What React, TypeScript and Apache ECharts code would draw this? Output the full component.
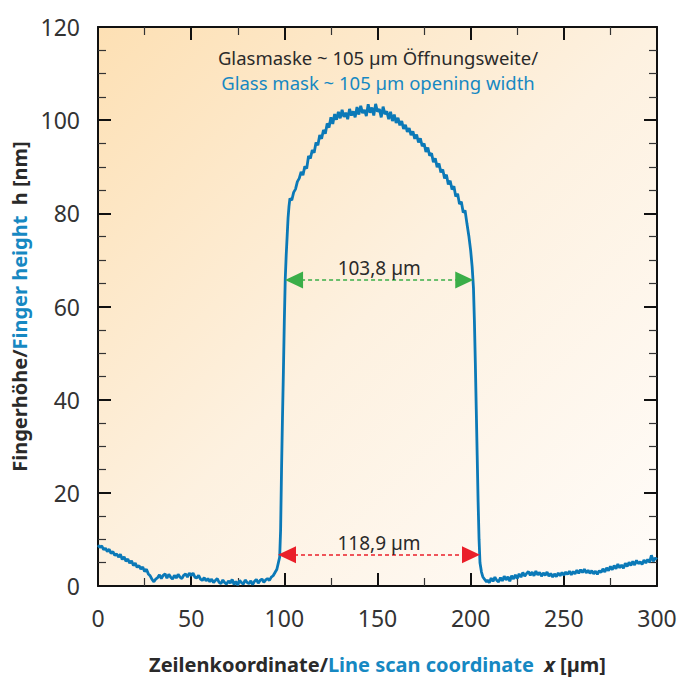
import React, { useEffect, useRef } from "react";
import * as echarts from "echarts";

// Line scan profile: x [µm], h [nm]
const scanX: number[] = [
  0, 1, 2, 3, 4, 5, 6, 7, 8, 9, 10, 11, 12, 13, 14, 15, 16, 17, 18, 19,
  20, 21, 22, 23, 24, 25, 26, 27, 28, 29, 30, 31, 32, 33, 34, 35, 36, 37, 38, 39,
  40, 41, 42, 43, 44, 45, 46, 47, 48, 49, 50, 51, 52, 53, 54, 55, 56, 57, 58, 59,
  60, 61, 62, 63, 64, 65, 66, 67, 68, 69, 70, 71, 72, 73, 74, 75, 76, 77, 78, 79,
  80, 81, 82, 83, 84, 85, 86, 87, 88, 89, 90, 91, 92, 93, 94, 95,
  96, 96.8, 97.5, 98, 98.5, 99, 99.5, 100, 100.5, 101, 101.5, 102, 102.5, 103,
  104, 105, 106, 107, 108, 109, 110, 111, 112, 113, 114, 115, 116, 117, 118, 119,
  120, 121, 122, 123, 124, 125, 126, 127, 128, 129, 130, 131, 132, 133, 134, 135,
  136, 137, 138, 139, 140, 141, 142, 143, 144, 145, 146, 147, 148, 149, 150, 151,
  152, 153, 154, 155, 156, 157, 158, 159, 160, 161, 162, 163, 164, 165, 166, 167,
  168, 169, 170, 171, 172, 173, 174, 175, 176, 177, 178, 179, 180, 181, 182, 183,
  184, 185, 186, 187, 188, 189, 190, 191, 192, 193, 194, 195, 196, 197, 198, 199,
  200, 200.8, 201.5, 202, 202.5, 203, 203.5, 204, 204.5, 205, 205.8, 206.5, 207.5, 208.5,
  209, 210, 211, 212, 213, 214, 215, 216, 217, 218, 219, 220, 221, 222, 223, 224,
  225, 226, 227, 228, 229, 230, 231, 232, 233, 234, 235, 236, 237, 238, 239, 240,
  241, 242, 243, 244, 245, 246, 247, 248, 249, 250, 251, 252, 253, 254, 255, 256,
  257, 258, 259, 260, 261, 262, 263, 264, 265, 266, 267, 268, 269, 270, 271, 272,
  273, 274, 275, 276, 277, 278, 279, 280, 281, 282, 283, 284, 285, 286, 287, 288,
  289, 290, 291, 292, 293, 294, 295, 296, 297, 298, 299, 300,
];

const scanH: number[] = [
  8.8, 8.3, 8.6, 7.8, 8.1, 7.4, 7.9, 7.0, 7.4, 6.6, 6.9, 6.2, 6.8, 5.7, 6.3, 5.3, 5.8, 4.9, 5.4, 4.4,
  4.9, 4.0, 4.4, 3.6, 4.1, 3.1, 3.6, 2.6, 2.2, 1.4, 0.9, 1.5, 1.8, 2.4, 1.6, 2.3, 2.6, 1.7, 2.5, 1.9,
  1.5, 2.3, 1.7, 2.5, 1.9, 1.6, 2.3, 2.6, 1.9, 2.8, 2.2, 2.8, 1.9, 1.7, 2.3, 1.5, 1.2, 1.8, 1.1, 1.6,
  0.9, 1.5, 0.7, 1.2, 1.6, 0.8, 0.5, 1.3, 0.7, 0.4, 1.1, 0.6, 1.4, 0.3, 1.0, 0.2, 1.2, 0.7, 0.4, 1.3,
  0.8, 0.5, 1.1, 0.3, 1.0, 1.4, 0.6, 1.2, 1.5, 0.8, 1.3, 1.6, 1.2, 1.9, 2.2, 2.9,
  3.6, 5.0, 6.2, 12, 25, 36, 46, 57, 66, 71, 75, 79, 81.5, 83.2,
  82.8, 84.5, 85.2, 86.8, 87.5, 88.9, 88.2, 90.1, 89.6, 92.3, 91.8, 93.6, 93.0, 95.2, 94.6, 96.8,
  96.0, 97.9, 97.1, 99.3, 98.4, 100.6, 99.2, 101.3, 100.1, 101.8, 100.4, 102.2, 100.7, 101.6, 100.2, 102.4,
  101.0, 101.9, 100.6, 102.8, 101.2, 103.1, 101.5, 102.2, 100.9, 103.4, 101.6, 102.7, 101.0, 103.5, 101.8, 102.4,
  100.6, 102.9, 101.3, 101.9, 100.2, 101.8, 99.8, 101.2, 99.4, 100.5, 98.9, 99.8, 98.1, 99.0, 97.5, 98.3,
  96.8, 97.6, 96.0, 96.9, 95.2, 96.1, 94.4, 95.0, 93.2, 94.1, 92.4, 92.9, 91.0, 91.8, 89.9, 90.7,
  88.8, 89.4, 87.5, 88.3, 86.2, 87.0, 85.1, 85.8, 83.6, 84.2, 82.0, 82.5, 80.2, 80.6, 77.8, 75.2,
  72.0, 68.5, 64, 57, 48, 38, 28, 18, 10, 5.0, 3.0, 2.0, 1.4, 0.9,
  1.3, 0.7, 1.7, 1.0, 1.9, 1.2, 0.9, 1.8, 1.1, 2.1, 1.3, 2.0, 1.0, 2.2, 1.5, 2.4,
  1.6, 2.6, 1.9, 2.9, 2.1, 2.7, 3.1, 2.3, 3.0, 2.2, 3.2, 2.4, 2.9, 2.1, 2.8, 2.3,
  3.0, 2.1, 2.7, 1.9, 2.6, 2.0, 2.8, 2.2, 2.9, 2.3, 3.0, 2.5, 3.2, 2.4, 3.1, 2.6,
  3.4, 2.7, 3.5, 2.9, 3.6, 2.8, 3.4, 2.7, 3.3, 2.6, 3.2, 2.5, 3.3, 2.9, 3.7, 3.0,
  3.9, 3.3, 4.2, 3.5, 4.4, 3.7, 4.7, 3.9, 4.5, 3.8, 4.9, 4.2, 5.1, 4.4, 5.3, 4.5,
  5.5, 4.8, 5.2, 4.6, 5.6, 4.9, 5.7, 5.1, 6.6, 5.3, 6.0, 5.7,
];

// Width annotations: arrow tips at [from, to] (µm), height h (nm)
const topWidth = { from: 100.4, to: 201.4, h: 65.7, label: "103,8 µm" };
const baseWidth = { from: 96.6, to: 205.0, h: 6.7, label: "118,9 µm" };

const xTicks = { min: 0, max: 300, interval: 50 };
const yTicks = { min: 0, max: 120, interval: 20 };

const titleDe = "Glasmaske ~ 105 µm Öffnungsweite/";
const titleEn = "Glass mask ~ 105 µm opening width";

const BLUE = "#1688c2";
const LINE = "#0b79b7";
const DARK = "#2a2a2a";
const GREEN = "#3aae48";
const RED = "#ea1f2a";
const FONT = "'Noto Sans', sans-serif";

const GRID = { left: 98, right: 24, top: 27, bottom: 94 };
const W = 681;

export default function App() {
  const ref = useRef<HTMLDivElement>(null);
  useEffect(() => {
    if (!ref.current) return;
    const chart = echarts.init(ref.current, null, { renderer: "svg" });
    const data = scanX.map((x, i) => [x, scanH[i]]);
    const arrowLen = 18;
    const arrowW = 17;
    const pxPerUnit = (W - GRID.left - GRID.right) / (xTicks.max - xTicks.min);
    const shift = arrowLen / 2 / pxPerUnit;
    const mkPair = (a: typeof topWidth, color: string) => [
      {
        coord: [a.from + shift, a.h],
        lineStyle: { color, type: [4, 3], width: 1.5, opacity: 1 },
        itemStyle: { color },
        label: {
          show: true,
          position: "middle",
          formatter: a.label,
          color: DARK,
          fontSize: 19,
          fontFamily: FONT,
          distance: 2,
        },
      },
      { coord: [a.to - shift, a.h], itemStyle: { color } },
    ];

    const axisCommon = {
      type: "value" as const,
      axisLine: { show: true, onZero: false, lineStyle: { color: "#111", width: 2 } },
      axisTick: { show: true, inside: true, length: 13, lineStyle: { color: "#111", width: 2 } },
      minorTick: { show: true, length: 8, lineStyle: { color: "#333", width: 1.2 } },
      splitLine: { show: false },
      minorSplitLine: { show: false },
    };
    const labelStyle = { color: "#333", fontSize: 23, fontFamily: FONT };
    const nameRich = {
      a: { fontWeight: "bold", color: DARK, fontSize: 20, fontFamily: FONT },
      b: { fontWeight: "bold", color: BLUE, fontSize: 20, fontFamily: FONT },
      c: { fontWeight: "bold", fontStyle: "italic", color: DARK, fontSize: 20, fontFamily: FONT },
    };

    chart.setOption({
      animation: false,
      grid: {
        ...GRID,
        show: true,
        borderWidth: 0,
        backgroundColor: new echarts.graphic.LinearGradient(0, 0, 1, 1, [
          { offset: 0, color: "#fde0b4" },
          { offset: 0.5, color: "#fdf1e0" },
          { offset: 1, color: "#fffcf9" },
        ]),
      },
      xAxis: [
        {
          ...axisCommon,
          min: xTicks.min,
          max: xTicks.max,
          interval: xTicks.interval,
          position: "bottom",
          minorTick: { ...axisCommon.minorTick, splitNumber: 2 },
          axisLabel: { ...labelStyle, margin: 20 },
          name: "{a|Zeilenkoordinate/}{b|Line scan coordinate}{c|  x}{a| [µm]}",
          nameLocation: "middle",
          nameGap: 68,
          nameTextStyle: { rich: nameRich },
        },
        {
          ...axisCommon,
          min: xTicks.min,
          max: xTicks.max,
          interval: xTicks.interval,
          position: "top",
          minorTick: { ...axisCommon.minorTick, splitNumber: 2 },
          axisLabel: { show: false },
        },
      ],
      yAxis: [
        {
          ...axisCommon,
          min: yTicks.min,
          max: yTicks.max,
          interval: yTicks.interval,
          position: "left",
          minorTick: { ...axisCommon.minorTick, splitNumber: 4 },
          axisLabel: { ...labelStyle, margin: 18 },
          name: "{a|Fingerhöhe/}{b|Finger height}{a|  h [nm]}",
          nameLocation: "middle",
          nameGap: 64,
          nameTextStyle: { rich: nameRich },
        },
        {
          ...axisCommon,
          min: yTicks.min,
          max: yTicks.max,
          interval: yTicks.interval,
          position: "right",
          minorTick: { ...axisCommon.minorTick, splitNumber: 4 },
          axisLabel: { show: false },
        },
      ],
      graphic: [
        {
          type: "text",
          x: 378,
          y: 57,
          style: {
            text: titleDe,
            fill: DARK,
            font: `18.5px ${FONT}`,
            lineHeight: 20,
            align: "center",
            verticalAlign: "middle",
          },
        },
        {
          type: "text",
          x: 378,
          y: 82,
          style: {
            text: titleEn,
            fill: BLUE,
            font: `18.5px ${FONT}`,
            lineHeight: 20,
            align: "center",
            verticalAlign: "middle",
          },
        },
      ],
      series: [
        {
          type: "line",
          data,
          showSymbol: false,
          symbol: "none",
          lineStyle: { color: LINE, width: 2.8 },
          silent: true,
          z: 3,
          markLine: {
            silent: true,
            symbol: ["triangle", "triangle"],
            symbolSize: [arrowW, arrowLen],
            emphasis: { disabled: true },
            data: [mkPair(topWidth, GREEN), mkPair(baseWidth, RED)],
          },
        },
      ],
    });
    return () => chart.dispose();
  }, []);
  return (
    <div
      ref={ref}
      style={{ position: "fixed", left: 0, top: 0, width: W, height: 680, background: "#fff" }}
    />
  );
}
